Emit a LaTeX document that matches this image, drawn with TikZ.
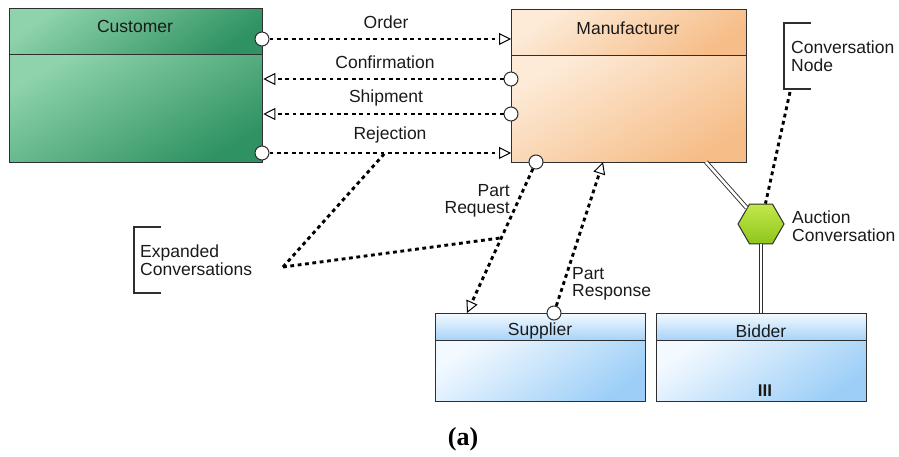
\documentclass[tikz,border=0pt]{standalone}
\usepackage{fontspec}
\setmainfont{Liberation Sans}
\newfontfamily\capfont{Liberation Serif}
\usetikzlibrary{arrows.meta,shapes.geometric}

\definecolor{edge}{HTML}{2E2E2E}
\definecolor{ink}{HTML}{1A1A1A}
\definecolor{grnL}{HTML}{8ED3AB}
\definecolor{grnM}{HTML}{4FAB7C}
\definecolor{grnD}{HTML}{2F9262}
\definecolor{orgL}{HTML}{FDEBD8}
\definecolor{orgM}{HTML}{FBD8B3}
\definecolor{orgD}{HTML}{F6BD88}
\definecolor{bluL}{HTML}{F2F9FF}
\definecolor{bluD}{HTML}{9CCEF7}
\definecolor{limeL}{HTML}{C2E84A}
\definecolor{limeD}{HTML}{8FC51C}

\begin{document}
\begin{tikzpicture}[x=1pt,y=-1pt,
  lbl/.style={font=\fontsize{17.5}{17.5}\selectfont, text=ink, inner sep=0},
  part/.style={draw=edge, line width=1.3pt, inner sep=0, anchor=north west},
  msg/.style={draw=black, line width=2.9pt, dash pattern=on 3.8pt off 3.6pt},
  opentip/.style={-{Triangle[open,length=12pt,width=12pt,line width=1pt]}},
  port/.style={circle, draw=edge, fill=white, line width=1pt, minimum size=14pt, inner sep=0},
  dbl/.style={draw=edge, line width=0.9pt, double=white, double distance=2.6pt},
  bracket/.style={draw=edge, line width=1.3pt}
]
\useasboundingbox (0,0) rectangle (899,457);

% ---- Customer ----
\node[part, minimum width=253pt, minimum height=46pt, top color=grnL, middle color=grnM, bottom color=grnD, shading angle=35] (custH) at (9,8) {};
\node[part, minimum width=253pt, minimum height=108pt, top color=grnL, middle color=grnM, bottom color=grnD, shading angle=30] (custB) at (9,54) {};
\node[lbl] (custT) at (135,26) {Customer};

% ---- Manufacturer ----
\node[part, minimum width=235pt, minimum height=46pt, top color=orgL, middle color=orgM, bottom color=orgD, shading angle=35] (manH) at (511,9) {};
\node[part, minimum width=235pt, minimum height=107pt, top color=orgL, middle color=orgM, bottom color=orgD, shading angle=30] (manB) at (511,55) {};
\node[lbl] (manT) at (628,28) {Manufacturer};

% ---- Supplier ----
\node[part, minimum width=210pt, minimum height=27pt, top color=bluL, bottom color=bluD!90!bluL] (supH) at (435,313) {};
\node[part, minimum width=210pt, minimum height=61pt, top color=bluL, bottom color=bluD, shading angle=35] (supB) at (435,340) {};
\node[lbl] (supT) at (540,331) {Supplier};

% ---- Bidder ----
\node[part, minimum width=210pt, minimum height=27pt, top color=bluL, bottom color=bluD!90!bluL] (bidH) at (656,313) {};
\node[part, minimum width=210pt, minimum height=61pt, top color=bluL, bottom color=bluD, shading angle=35] (bidB) at (656,340) {};
\node[lbl] (bidT) at (761,331) {Bidder};
\node[font=\bfseries\fontsize{17}{17}\selectfont, text=ink, inner sep=0] (bidMark) at (765,391) {III};

% ---- Customer / Manufacturer messages ----
\node[port] (pOrd) at (262,39) {};
\node[port] (pConf) at (511,79) {};
\node[port] (pShip) at (511,114) {};
\node[port] (pRej) at (262,153) {};
\draw[msg, opentip] (pOrd) -- (manH.west |- pOrd);
\draw[msg, opentip] (pConf) -- (custB.east |- pConf);
\draw[msg, opentip] (pShip) -- (custB.east |- pShip);
\draw[msg, opentip] (pRej) -- (manB.west |- pRej);
\node[lbl] (lOrd) at (386,22) {Order};
\node[lbl] (lConf) at (385,62) {Confirmation};
\node[lbl] (lShip) at (386,98) {Shipment};
\node[lbl] (lRej) at (390,135) {Rejection};

% ---- Manufacturer / Supplier messages ----
\node[port] (pReq) at (536,162) {};
\coordinate (reqEnd) at (467,313);
\node[port] (pResp) at (554,313) {};
\coordinate (respEnd) at (603,162);
\draw[msg, opentip] (pReq) -- (reqEnd);
\draw[msg, opentip] (pResp) -- (respEnd);
\node[lbl, align=right, anchor=east] (lReq) at (510,201) {Part\\Request};
\node[lbl, align=left, anchor=west] (lResp) at (572,284) {Part\\Response};

% ---- Auction conversation ----
\node[regular polygon, regular polygon sides=6, minimum size=46pt, inner sep=0,
      draw=edge, line width=1pt, top color=limeL, bottom color=limeD] (hex) at (761,224) {};
\coordinate (manFoot) at (706,162);
\draw[dbl] (manFoot) -- (hex);
\draw[dbl] (hex.south) -- (hex.south |- bidH.north);
\node[lbl, align=left, anchor=west] (lAuc) at (792,226) {Auction\\Conversation};

% ---- Annotations ----
\draw[bracket] (811,23) -- (784,23) -- (784,89) -- (811,89);
\node[lbl, align=left, anchor=west] (lCN) at (791,56) {Conversation\\Node};
\coordinate (cnFoot) at (790,92);
\draw[msg] (cnFoot) -- (hex);

\draw[bracket] (161,227) -- (134,227) -- (134,293) -- (161,293);
\node[lbl, align=left, anchor=west] (lExp) at (140,260) {Expanded\\Conversations};
\coordinate (expHub) at (283,267);
\coordinate (onRej) at (385,153);
\coordinate (onReq) at (500,238);
\draw[msg] (expHub) -- (onRej);
\draw[msg] (expHub) -- (onReq);

% ---- Caption ----
\node[font=\capfont\bfseries\fontsize{26}{26}\selectfont, text=black, inner sep=0] (cap) at (463,439) {(a)};
\end{tikzpicture}
\end{document}
